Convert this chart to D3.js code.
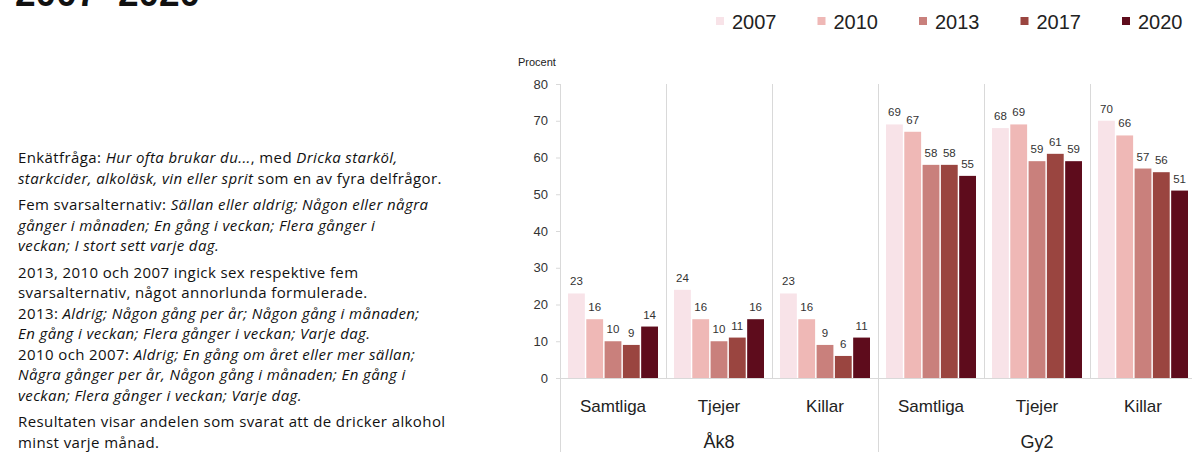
<!DOCTYPE html>
<html>
<head>
<meta charset="utf-8">
<script src="https://cdn.jsdelivr.net/npm/d3@7"></script>
<style>
  body { margin: 0; background: #fff; }
  svg { font-family: "Liberation Sans", Arial, sans-serif; display: block; }
</style>
</head>
<body>
<div id="viz"></div>
<script>
// data
var years = ["2007", "2010", "2013", "2017", "2020"];
var subgroups = ["Samtliga", "Tjejer", "Killar"];
var groups = ["Åk8", "Gy2"];
var colors = ["#f8e3e8", "#efb8b6", "#c9807c", "#9a4540", "#5e0c1c"];

// one array per category, in order of years
var ak8Samtliga = [23, 16, 10, 9, 14];
var ak8Tjejer   = [24, 16, 10, 11, 16];
var ak8Killar   = [23, 16, 9, 6, 11];
var gy2Samtliga = [69, 67, 58, 58, 55];
var gy2Tjejer   = [68, 69, 59, 61, 59];
var gy2Killar   = [70, 66, 57, 56, 51];

var yTicks = [0, 10, 20, 30, 40, 50, 60, 70, 80];

var notes = [
  [["Enkätfråga: ", 0], ["Hur ofta brukar du...", 1], [", med ", 0], ["Dricka starköl,", 1]],
  [["starkcider, alkoläsk, vin eller sprit", 1], [" som en av fyra delfrågor.", 0]],
  null,
  [["Fem svarsalternativ: ", 0], ["Sällan eller aldrig; Någon eller några", 1]],
  [["gånger i månaden; En gång i veckan; Flera gånger i", 1]],
  [["veckan; I stort sett varje dag.", 1]],
  null,
  [["2013, 2010 och 2007 ingick sex respektive fem", 0]],
  [["svarsalternativ, något annorlunda formulerade.", 0]],
  [["2013: ", 0], ["Aldrig; Någon gång per år; Någon gång i månaden;", 1]],
  [["En gång i veckan; Flera gånger i veckan; Varje dag.", 1]],
  [["2010 och 2007: ", 0], ["Aldrig; En gång om året eller mer sällan;", 1]],
  [["Några gånger per år, Någon gång i månaden; En gång i", 1]],
  [["veckan; Flera gånger i veckan; Varje dag.", 1]],
  null,
  [["Resultaten visar andelen som svarat att de dricker alkohol", 0]],
  [["minst varje månad.", 0]]
];

var rows = [
  {group: "Åk8", sub: "Samtliga", values: ak8Samtliga},
  {group: "Åk8", sub: "Tjejer", values: ak8Tjejer},
  {group: "Åk8", sub: "Killar", values: ak8Killar},
  {group: "Gy2", sub: "Samtliga", values: gy2Samtliga},
  {group: "Gy2", sub: "Tjejer", values: gy2Tjejer},
  {group: "Gy2", sub: "Killar", values: gy2Killar}
];

var W = 1192, H = 452;
var svg = d3.select("#viz").append("svg").attr("width", W).attr("height", H);

// title (cut off at top)
svg.append("text").attr("x", 15).attr("y", 6)
  .attr("font-size", 37).attr("font-weight", "bold").attr("fill", "#111")
  .text("2007–2020");

// legend
var legend = svg.append("g").selectAll("g").data(years).enter().append("g")
  .attr("transform", function(d, i) { return "translate(" + (716 + i * 101.5) + ",21)"; });
legend.append("rect").attr("x", 0).attr("y", -4).attr("width", 8).attr("height", 8)
  .attr("fill", function(d, i) { return colors[i]; });
legend.append("text").attr("x", 16).attr("y", 7.5)
  .attr("font-size", 20).attr("fill", "#222").text(function(d) { return d; });

// notes
var noteG = svg.append("g").attr("font-size", 15).attr("fill", "#111")
  .attr("letter-spacing", 0.4)
  .attr("font-family", "'Open Sans', sans-serif");
var ny = 163;
notes.forEach(function(line) {
  if (line === null) { ny += 6; return; }
  var t = noteG.append("text").attr("x", 18).attr("y", ny);
  line.forEach(function(p) {
    t.append("tspan").attr("font-style", p[1] ? "italic" : "normal").text(p[0]);
  });
  ny += 20.5;
});

// scales
var plotLeft = 560, plotTop = 84, base = 378;
var x0 = d3.scaleBand().domain(d3.range(rows.length)).range([plotLeft, plotLeft + 106 * rows.length]);
var x1 = d3.scaleBand().domain(years).range([8, x0.bandwidth() - 8]).paddingInner(0.08);
var y = d3.scaleLinear().domain([0, 80]).range([base, plotTop]);

// y axis
var yAxis = svg.append("g").attr("transform", "translate(" + plotLeft + ",0)")
  .call(d3.axisLeft(y).tickValues(yTicks).tickSize(4).tickPadding(8));
yAxis.select(".domain").remove();
yAxis.selectAll(".tick line").attr("stroke", "#d9d9d9");
yAxis.selectAll(".tick text").attr("font-size", 13).attr("fill", "#333")
  .attr("font-family", "Liberation Sans, Arial, sans-serif");

svg.append("text").attr("x", 518).attr("y", 66).attr("font-size", 11).attr("fill", "#222").text("Procent");

// separators
var seps = svg.append("g").attr("stroke", "#d9d9d9").attr("stroke-width", 1);
d3.range(rows.length + 1).forEach(function(i) {
  var xx = (i < rows.length ? x0(i) : x0(rows.length - 1) + x0.bandwidth()) + 0.5;
  var longLine = (i === 0 || i === 3 || i === rows.length);
  seps.append("line").attr("x1", xx).attr("x2", xx).attr("y1", plotTop)
    .attr("y2", longLine ? H : base);
});
seps.append("line").attr("x1", plotLeft).attr("x2", W).attr("y1", base + 0.5).attr("y2", base + 0.5);

// bars
var cat = svg.append("g").selectAll("g").data(rows).enter().append("g")
  .attr("transform", function(d, i) { return "translate(" + x0(i) + ",0)"; });

cat.selectAll("rect").data(function(d) { return d.values; }).enter().append("rect")
  .attr("x", function(d, i) { return x1(years[i]); })
  .attr("width", x1.bandwidth())
  .attr("y", function(d) { return y(d); })
  .attr("height", function(d) { return base - y(d); })
  .attr("fill", function(d, i) { return colors[i]; });

cat.selectAll("text.val").data(function(d) { return d.values; }).enter().append("text")
  .attr("class", "val")
  .attr("x", function(d, i) { return x1(years[i]) + x1.bandwidth() / 2; })
  .attr("y", function(d) { return y(d) - 8; })
  .attr("text-anchor", "middle").attr("font-size", 11.5).attr("fill", "#333")
  .text(function(d) { return d; });

// category labels
cat.append("text").attr("x", x0.bandwidth() / 2).attr("y", 412)
  .attr("text-anchor", "middle").attr("font-size", 17).attr("fill", "#222")
  .text(function(d) { return d.sub; });

// group labels
groups.forEach(function(g, gi) {
  var x = x0(gi * 3) + x0.bandwidth() * 1.5;
  svg.append("text").attr("x", x).attr("y", 448)
    .attr("text-anchor", "middle").attr("font-size", 18).attr("fill", "#222").text(g);
});
</script>
</body>
</html>
